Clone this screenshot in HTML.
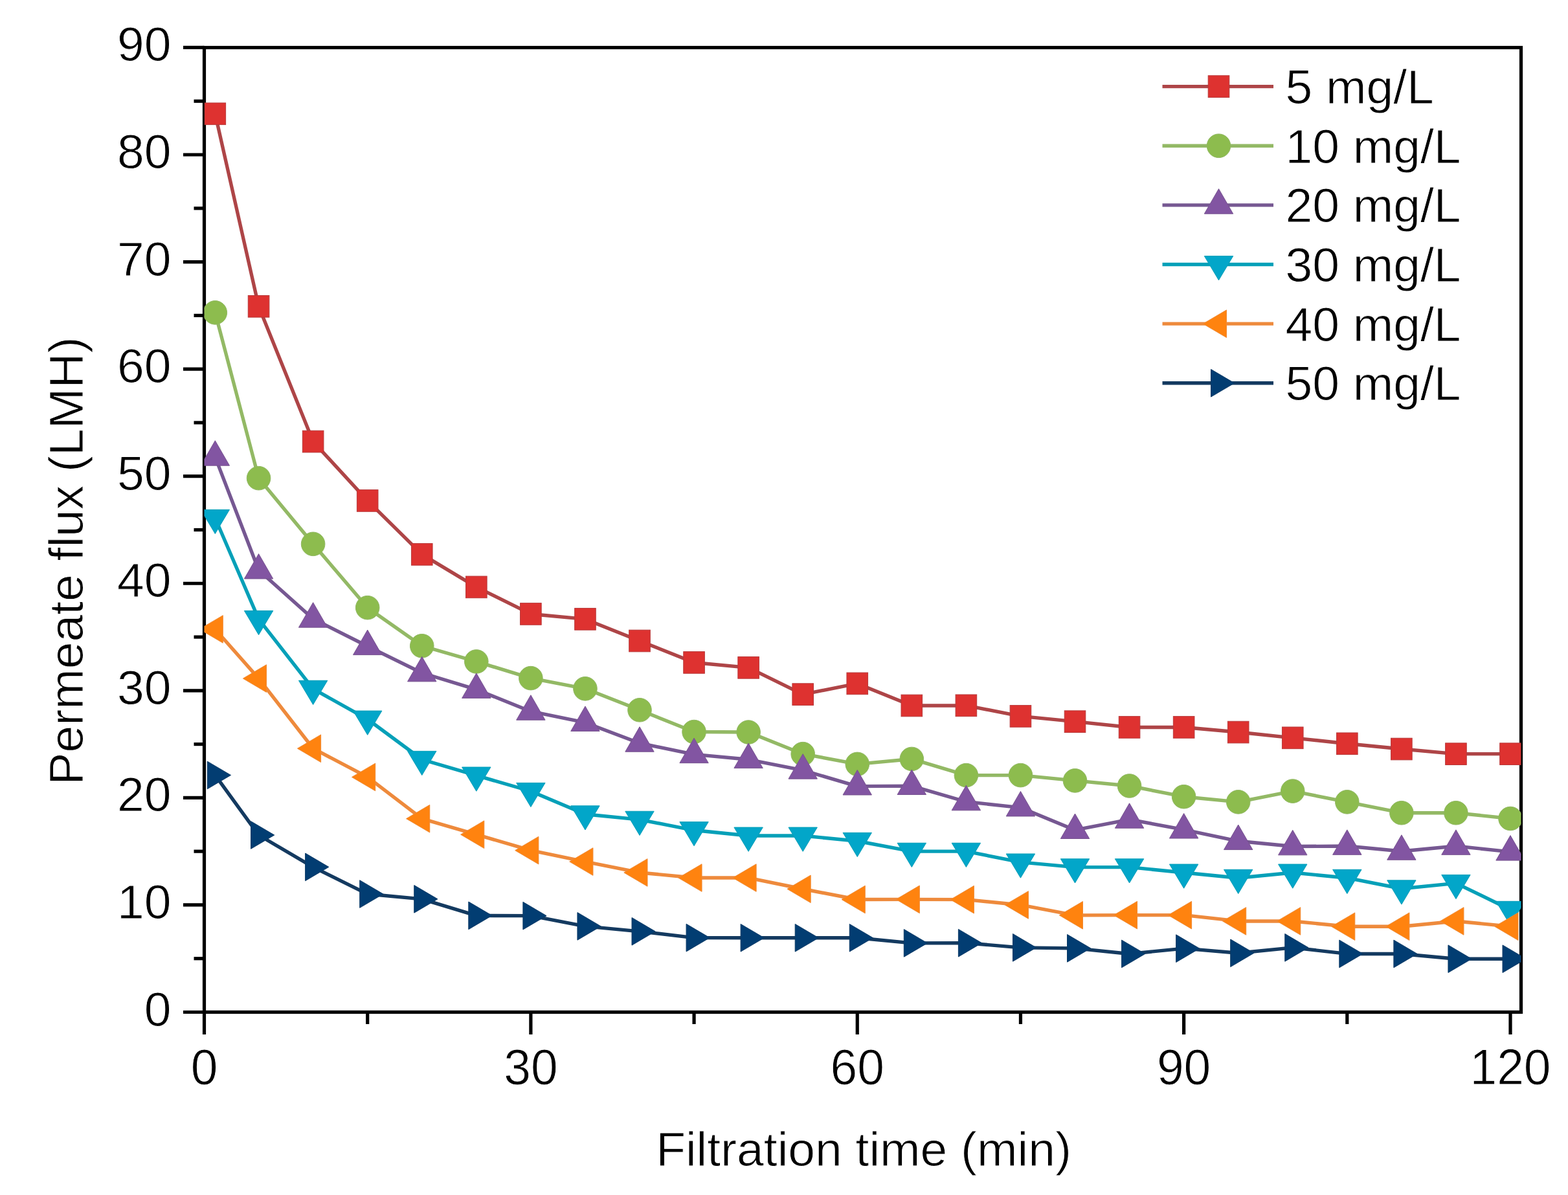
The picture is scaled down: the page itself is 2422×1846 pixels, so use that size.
<!DOCTYPE html>
<html><head><meta charset="utf-8"><title>Permeate flux vs filtration time</title>
<style>
html,body{margin:0;padding:0;background:#fff;overflow:hidden;}
svg{display:block;}
text{font-family:"Liberation Sans",Arial,Helvetica,sans-serif;fill:#000;}
</style></head><body>
<svg width="2422" height="1846" viewBox="0 0 2422 1846">
<rect width="2422" height="1846" fill="#fff"/>
<defs><clipPath id="pc"><rect x="315.5" y="73.5" width="2034" height="1490"/></clipPath></defs>
<g stroke="#000" stroke-width="5.2" stroke-linecap="butt">
<rect x="315.5" y="73.5" width="2034" height="1490" fill="none" stroke="#000" stroke-width="5.2"/>
<line x1="283" y1="1563.5" x2="315.5" y2="1563.5"/>
<line x1="299.5" y1="1480.72" x2="315.5" y2="1480.72"/>
<line x1="283" y1="1397.94" x2="315.5" y2="1397.94"/>
<line x1="299.5" y1="1315.16" x2="315.5" y2="1315.16"/>
<line x1="283" y1="1232.38" x2="315.5" y2="1232.38"/>
<line x1="299.5" y1="1149.6" x2="315.5" y2="1149.6"/>
<line x1="283" y1="1066.82" x2="315.5" y2="1066.82"/>
<line x1="299.5" y1="984.04" x2="315.5" y2="984.04"/>
<line x1="283" y1="901.26" x2="315.5" y2="901.26"/>
<line x1="299.5" y1="818.48" x2="315.5" y2="818.48"/>
<line x1="283" y1="735.7" x2="315.5" y2="735.7"/>
<line x1="299.5" y1="652.92" x2="315.5" y2="652.92"/>
<line x1="283" y1="570.14" x2="315.5" y2="570.14"/>
<line x1="299.5" y1="487.36" x2="315.5" y2="487.36"/>
<line x1="283" y1="404.58" x2="315.5" y2="404.58"/>
<line x1="299.5" y1="321.8" x2="315.5" y2="321.8"/>
<line x1="283" y1="239.02" x2="315.5" y2="239.02"/>
<line x1="299.5" y1="156.24" x2="315.5" y2="156.24"/>
<line x1="283" y1="73.46" x2="315.5" y2="73.46"/>
<line x1="315.5" y1="1563.5" x2="315.5" y2="1598"/>
<line x1="567.69" y1="1563.5" x2="567.69" y2="1582"/>
<line x1="819.88" y1="1563.5" x2="819.88" y2="1598"/>
<line x1="1072.06" y1="1563.5" x2="1072.06" y2="1582"/>
<line x1="1324.25" y1="1563.5" x2="1324.25" y2="1598"/>
<line x1="1576.44" y1="1563.5" x2="1576.44" y2="1582"/>
<line x1="1828.62" y1="1563.5" x2="1828.62" y2="1598"/>
<line x1="2080.81" y1="1563.5" x2="2080.81" y2="1582"/>
<line x1="2333" y1="1563.5" x2="2333" y2="1598"/>
</g>
<g font-size="75" stroke="#fff" stroke-width="0.9">
<text x="264.5" y="1584.5" text-anchor="end">0</text>
<text x="264.5" y="1418.94" text-anchor="end">10</text>
<text x="264.5" y="1253.38" text-anchor="end">20</text>
<text x="264.5" y="1087.82" text-anchor="end">30</text>
<text x="264.5" y="922.26" text-anchor="end">40</text>
<text x="264.5" y="756.7" text-anchor="end">50</text>
<text x="264.5" y="591.14" text-anchor="end">60</text>
<text x="264.5" y="425.58" text-anchor="end">70</text>
<text x="264.5" y="260.02" text-anchor="end">80</text>
<text x="264.5" y="94.46" text-anchor="end">90</text>
<text transform="translate(315.5,1675) scale(1,1.035)" text-anchor="middle">0</text>
<text transform="translate(819.88,1675) scale(1,1.035)" text-anchor="middle">30</text>
<text transform="translate(1324.25,1675) scale(1,1.035)" text-anchor="middle">60</text>
<text transform="translate(1828.62,1675) scale(1,1.035)" text-anchor="middle">90</text>
<text transform="translate(2333,1675) scale(1,1.035)" text-anchor="middle">120</text>
</g>
<text x="1334" y="1801" font-size="75" text-anchor="middle" stroke="#fff" stroke-width="0.9">Filtration time (min)</text>
<text transform="translate(127.5,866.5) rotate(-90)" font-size="75" text-anchor="middle" stroke="#fff" stroke-width="0.9">Permeate flux (LMH)</text>
<g clip-path="url(#pc)">
<polyline points="332.31,175.78 399.56,473.29 483.62,682.06 567.69,773.45 651.75,856.39 735.81,906.89 819.88,948.44 903.94,956.39 988,990 1072.06,1023.44 1156.12,1031.39 1240.19,1072.61 1324.25,1055.89 1408.31,1090 1492.38,1089.83 1576.44,1106.39 1660.5,1114.67 1744.56,1123.44 1828.62,1123.44 1912.69,1131.06 1996.75,1139.83 2080.81,1148.77 2164.88,1157.05 2248.94,1164.67 2333,1164.67" fill="none" stroke="#ae4547" stroke-width="5.4" stroke-linejoin="round"/>
<rect x="316.01" y="158.98" width="32.6" height="33.6" fill="#de3230" stroke="#b8393a" stroke-width="1.0"/>
<rect x="383.26" y="456.49" width="32.6" height="33.6" fill="#de3230" stroke="#b8393a" stroke-width="1.0"/>
<rect x="467.32" y="665.26" width="32.6" height="33.6" fill="#de3230" stroke="#b8393a" stroke-width="1.0"/>
<rect x="551.39" y="756.65" width="32.6" height="33.6" fill="#de3230" stroke="#b8393a" stroke-width="1.0"/>
<rect x="635.45" y="839.59" width="32.6" height="33.6" fill="#de3230" stroke="#b8393a" stroke-width="1.0"/>
<rect x="719.51" y="890.09" width="32.6" height="33.6" fill="#de3230" stroke="#b8393a" stroke-width="1.0"/>
<rect x="803.58" y="931.64" width="32.6" height="33.6" fill="#de3230" stroke="#b8393a" stroke-width="1.0"/>
<rect x="887.64" y="939.59" width="32.6" height="33.6" fill="#de3230" stroke="#b8393a" stroke-width="1.0"/>
<rect x="971.7" y="973.2" width="32.6" height="33.6" fill="#de3230" stroke="#b8393a" stroke-width="1.0"/>
<rect x="1055.76" y="1006.64" width="32.6" height="33.6" fill="#de3230" stroke="#b8393a" stroke-width="1.0"/>
<rect x="1139.83" y="1014.59" width="32.6" height="33.6" fill="#de3230" stroke="#b8393a" stroke-width="1.0"/>
<rect x="1223.89" y="1055.81" width="32.6" height="33.6" fill="#de3230" stroke="#b8393a" stroke-width="1.0"/>
<rect x="1307.95" y="1039.09" width="32.6" height="33.6" fill="#de3230" stroke="#b8393a" stroke-width="1.0"/>
<rect x="1392.01" y="1073.2" width="32.6" height="33.6" fill="#de3230" stroke="#b8393a" stroke-width="1.0"/>
<rect x="1476.08" y="1073.03" width="32.6" height="33.6" fill="#de3230" stroke="#b8393a" stroke-width="1.0"/>
<rect x="1560.14" y="1089.59" width="32.6" height="33.6" fill="#de3230" stroke="#b8393a" stroke-width="1.0"/>
<rect x="1644.2" y="1097.87" width="32.6" height="33.6" fill="#de3230" stroke="#b8393a" stroke-width="1.0"/>
<rect x="1728.26" y="1106.64" width="32.6" height="33.6" fill="#de3230" stroke="#b8393a" stroke-width="1.0"/>
<rect x="1812.33" y="1106.64" width="32.6" height="33.6" fill="#de3230" stroke="#b8393a" stroke-width="1.0"/>
<rect x="1896.39" y="1114.26" width="32.6" height="33.6" fill="#de3230" stroke="#b8393a" stroke-width="1.0"/>
<rect x="1980.45" y="1123.03" width="32.6" height="33.6" fill="#de3230" stroke="#b8393a" stroke-width="1.0"/>
<rect x="2064.51" y="1131.97" width="32.6" height="33.6" fill="#de3230" stroke="#b8393a" stroke-width="1.0"/>
<rect x="2148.57" y="1140.25" width="32.6" height="33.6" fill="#de3230" stroke="#b8393a" stroke-width="1.0"/>
<rect x="2232.64" y="1147.87" width="32.6" height="33.6" fill="#de3230" stroke="#b8393a" stroke-width="1.0"/>
<rect x="2316.7" y="1147.87" width="32.6" height="33.6" fill="#de3230" stroke="#b8393a" stroke-width="1.0"/>
<polyline points="332.31,482.89 399.56,738.68 483.62,840.33 567.69,938.68 651.75,997.78 735.81,1021.95 819.88,1047.62 903.94,1063.84 988,1096.79 1072.06,1130.56 1156.12,1131.06 1240.19,1164.67 1324.25,1180.39 1408.31,1172.45 1492.38,1197.61 1576.44,1197.61 1660.5,1205.89 1744.56,1214 1828.62,1230.72 1912.69,1238.84 1996.75,1222.12 2080.81,1238.84 2164.88,1255.72 2248.94,1255.72 2333,1264.5" fill="none" stroke="#93b965" stroke-width="5.4" stroke-linejoin="round"/>
<circle cx="332.31" cy="482.89" r="18.3" fill="#8dbc4e" stroke="#90b862" stroke-width="1.0"/>
<circle cx="399.56" cy="738.68" r="18.3" fill="#8dbc4e" stroke="#90b862" stroke-width="1.0"/>
<circle cx="483.62" cy="840.33" r="18.3" fill="#8dbc4e" stroke="#90b862" stroke-width="1.0"/>
<circle cx="567.69" cy="938.68" r="18.3" fill="#8dbc4e" stroke="#90b862" stroke-width="1.0"/>
<circle cx="651.75" cy="997.78" r="18.3" fill="#8dbc4e" stroke="#90b862" stroke-width="1.0"/>
<circle cx="735.81" cy="1021.95" r="18.3" fill="#8dbc4e" stroke="#90b862" stroke-width="1.0"/>
<circle cx="819.88" cy="1047.62" r="18.3" fill="#8dbc4e" stroke="#90b862" stroke-width="1.0"/>
<circle cx="903.94" cy="1063.84" r="18.3" fill="#8dbc4e" stroke="#90b862" stroke-width="1.0"/>
<circle cx="988" cy="1096.79" r="18.3" fill="#8dbc4e" stroke="#90b862" stroke-width="1.0"/>
<circle cx="1072.06" cy="1130.56" r="18.3" fill="#8dbc4e" stroke="#90b862" stroke-width="1.0"/>
<circle cx="1156.12" cy="1131.06" r="18.3" fill="#8dbc4e" stroke="#90b862" stroke-width="1.0"/>
<circle cx="1240.19" cy="1164.67" r="18.3" fill="#8dbc4e" stroke="#90b862" stroke-width="1.0"/>
<circle cx="1324.25" cy="1180.39" r="18.3" fill="#8dbc4e" stroke="#90b862" stroke-width="1.0"/>
<circle cx="1408.31" cy="1172.45" r="18.3" fill="#8dbc4e" stroke="#90b862" stroke-width="1.0"/>
<circle cx="1492.38" cy="1197.61" r="18.3" fill="#8dbc4e" stroke="#90b862" stroke-width="1.0"/>
<circle cx="1576.44" cy="1197.61" r="18.3" fill="#8dbc4e" stroke="#90b862" stroke-width="1.0"/>
<circle cx="1660.5" cy="1205.89" r="18.3" fill="#8dbc4e" stroke="#90b862" stroke-width="1.0"/>
<circle cx="1744.56" cy="1214" r="18.3" fill="#8dbc4e" stroke="#90b862" stroke-width="1.0"/>
<circle cx="1828.62" cy="1230.72" r="18.3" fill="#8dbc4e" stroke="#90b862" stroke-width="1.0"/>
<circle cx="1912.69" cy="1238.84" r="18.3" fill="#8dbc4e" stroke="#90b862" stroke-width="1.0"/>
<circle cx="1996.75" cy="1222.12" r="18.3" fill="#8dbc4e" stroke="#90b862" stroke-width="1.0"/>
<circle cx="2080.81" cy="1238.84" r="18.3" fill="#8dbc4e" stroke="#90b862" stroke-width="1.0"/>
<circle cx="2164.88" cy="1255.72" r="18.3" fill="#8dbc4e" stroke="#90b862" stroke-width="1.0"/>
<circle cx="2248.94" cy="1255.72" r="18.3" fill="#8dbc4e" stroke="#90b862" stroke-width="1.0"/>
<circle cx="2333" cy="1264.5" r="18.3" fill="#8dbc4e" stroke="#90b862" stroke-width="1.0"/>
<polyline points="332.31,705.9 399.56,880.73 483.62,955.89 567.69,998.28 651.75,1039.5 735.81,1065.16 819.88,1098.94 903.94,1116.16 988,1147.94 1072.06,1165.33 1156.12,1173.28 1240.19,1189.83 1324.25,1214.67 1408.31,1214.17 1492.38,1238.51 1576.44,1247.61 1660.5,1282.21 1744.56,1265.99 1828.62,1281.72 1912.69,1299.27 1996.75,1307.54 2080.81,1307.05 2164.88,1314.99 2248.94,1307.05 2333,1315.82" fill="none" stroke="#765892" stroke-width="5.4" stroke-linejoin="round"/>
<polygon points="332.31,680.7 310.11,719.2 354.51,719.2" fill="#8255a2" stroke="#77538f" stroke-width="1.0"/>
<polygon points="399.56,855.53 377.36,894.03 421.76,894.03" fill="#8255a2" stroke="#77538f" stroke-width="1.0"/>
<polygon points="483.62,930.69 461.43,969.19 505.82,969.19" fill="#8255a2" stroke="#77538f" stroke-width="1.0"/>
<polygon points="567.69,973.08 545.49,1011.58 589.89,1011.58" fill="#8255a2" stroke="#77538f" stroke-width="1.0"/>
<polygon points="651.75,1014.3 629.55,1052.8 673.95,1052.8" fill="#8255a2" stroke="#77538f" stroke-width="1.0"/>
<polygon points="735.81,1039.96 713.61,1078.46 758.01,1078.46" fill="#8255a2" stroke="#77538f" stroke-width="1.0"/>
<polygon points="819.88,1073.74 797.67,1112.24 842.08,1112.24" fill="#8255a2" stroke="#77538f" stroke-width="1.0"/>
<polygon points="903.94,1090.96 881.74,1129.46 926.14,1129.46" fill="#8255a2" stroke="#77538f" stroke-width="1.0"/>
<polygon points="988,1122.74 965.8,1161.24 1010.2,1161.24" fill="#8255a2" stroke="#77538f" stroke-width="1.0"/>
<polygon points="1072.06,1140.13 1049.86,1178.63 1094.26,1178.63" fill="#8255a2" stroke="#77538f" stroke-width="1.0"/>
<polygon points="1156.12,1148.08 1133.92,1186.58 1178.33,1186.58" fill="#8255a2" stroke="#77538f" stroke-width="1.0"/>
<polygon points="1240.19,1164.63 1217.99,1203.13 1262.39,1203.13" fill="#8255a2" stroke="#77538f" stroke-width="1.0"/>
<polygon points="1324.25,1189.47 1302.05,1227.97 1346.45,1227.97" fill="#8255a2" stroke="#77538f" stroke-width="1.0"/>
<polygon points="1408.31,1188.97 1386.11,1227.47 1430.51,1227.47" fill="#8255a2" stroke="#77538f" stroke-width="1.0"/>
<polygon points="1492.38,1213.31 1470.17,1251.81 1514.58,1251.81" fill="#8255a2" stroke="#77538f" stroke-width="1.0"/>
<polygon points="1576.44,1222.41 1554.24,1260.91 1598.64,1260.91" fill="#8255a2" stroke="#77538f" stroke-width="1.0"/>
<polygon points="1660.5,1257.01 1638.3,1295.51 1682.7,1295.51" fill="#8255a2" stroke="#77538f" stroke-width="1.0"/>
<polygon points="1744.56,1240.79 1722.36,1279.29 1766.76,1279.29" fill="#8255a2" stroke="#77538f" stroke-width="1.0"/>
<polygon points="1828.62,1256.52 1806.42,1295.02 1850.83,1295.02" fill="#8255a2" stroke="#77538f" stroke-width="1.0"/>
<polygon points="1912.69,1274.07 1890.49,1312.57 1934.89,1312.57" fill="#8255a2" stroke="#77538f" stroke-width="1.0"/>
<polygon points="1996.75,1282.34 1974.55,1320.84 2018.95,1320.84" fill="#8255a2" stroke="#77538f" stroke-width="1.0"/>
<polygon points="2080.81,1281.85 2058.61,1320.35 2103.01,1320.35" fill="#8255a2" stroke="#77538f" stroke-width="1.0"/>
<polygon points="2164.88,1289.79 2142.68,1328.29 2187.07,1328.29" fill="#8255a2" stroke="#77538f" stroke-width="1.0"/>
<polygon points="2248.94,1281.85 2226.74,1320.35 2271.14,1320.35" fill="#8255a2" stroke="#77538f" stroke-width="1.0"/>
<polygon points="2333,1290.62 2310.8,1329.12 2355.2,1329.12" fill="#8255a2" stroke="#77538f" stroke-width="1.0"/>
<polyline points="332.31,800.27 399.56,956.39 483.62,1064.17 567.69,1111.02 651.75,1173.28 735.81,1197.94 819.88,1222.28 903.94,1257.71 988,1266.15 1072.06,1282.54 1156.12,1290.99 1240.19,1290.99 1324.25,1299.27 1408.31,1315.16 1492.38,1315.16 1576.44,1331.88 1660.5,1339.66 1744.56,1339.66 1828.62,1347.94 1912.69,1356.22 1996.75,1347.94 2080.81,1356.22 2164.88,1372.77 2248.94,1364.33 2333,1405.22" fill="none" stroke="#06a0b8" stroke-width="5.4" stroke-linejoin="round"/>
<polygon points="332.31,824.57 310.11,787.37 354.51,787.37" fill="#02a6c9" stroke="#069fb8" stroke-width="1.0"/>
<polygon points="399.56,980.69 377.36,943.49 421.76,943.49" fill="#02a6c9" stroke="#069fb8" stroke-width="1.0"/>
<polygon points="483.62,1088.47 461.43,1051.27 505.82,1051.27" fill="#02a6c9" stroke="#069fb8" stroke-width="1.0"/>
<polygon points="567.69,1135.32 545.49,1098.12 589.89,1098.12" fill="#02a6c9" stroke="#069fb8" stroke-width="1.0"/>
<polygon points="651.75,1197.58 629.55,1160.38 673.95,1160.38" fill="#02a6c9" stroke="#069fb8" stroke-width="1.0"/>
<polygon points="735.81,1222.24 713.61,1185.04 758.01,1185.04" fill="#02a6c9" stroke="#069fb8" stroke-width="1.0"/>
<polygon points="819.88,1246.58 797.67,1209.38 842.08,1209.38" fill="#02a6c9" stroke="#069fb8" stroke-width="1.0"/>
<polygon points="903.94,1282.01 881.74,1244.81 926.14,1244.81" fill="#02a6c9" stroke="#069fb8" stroke-width="1.0"/>
<polygon points="988,1290.45 965.8,1253.25 1010.2,1253.25" fill="#02a6c9" stroke="#069fb8" stroke-width="1.0"/>
<polygon points="1072.06,1306.84 1049.86,1269.64 1094.26,1269.64" fill="#02a6c9" stroke="#069fb8" stroke-width="1.0"/>
<polygon points="1156.12,1315.29 1133.92,1278.09 1178.33,1278.09" fill="#02a6c9" stroke="#069fb8" stroke-width="1.0"/>
<polygon points="1240.19,1315.29 1217.99,1278.09 1262.39,1278.09" fill="#02a6c9" stroke="#069fb8" stroke-width="1.0"/>
<polygon points="1324.25,1323.57 1302.05,1286.37 1346.45,1286.37" fill="#02a6c9" stroke="#069fb8" stroke-width="1.0"/>
<polygon points="1408.31,1339.46 1386.11,1302.26 1430.51,1302.26" fill="#02a6c9" stroke="#069fb8" stroke-width="1.0"/>
<polygon points="1492.38,1339.46 1470.17,1302.26 1514.58,1302.26" fill="#02a6c9" stroke="#069fb8" stroke-width="1.0"/>
<polygon points="1576.44,1356.18 1554.24,1318.98 1598.64,1318.98" fill="#02a6c9" stroke="#069fb8" stroke-width="1.0"/>
<polygon points="1660.5,1363.96 1638.3,1326.76 1682.7,1326.76" fill="#02a6c9" stroke="#069fb8" stroke-width="1.0"/>
<polygon points="1744.56,1363.96 1722.36,1326.76 1766.76,1326.76" fill="#02a6c9" stroke="#069fb8" stroke-width="1.0"/>
<polygon points="1828.62,1372.24 1806.42,1335.04 1850.83,1335.04" fill="#02a6c9" stroke="#069fb8" stroke-width="1.0"/>
<polygon points="1912.69,1380.52 1890.49,1343.32 1934.89,1343.32" fill="#02a6c9" stroke="#069fb8" stroke-width="1.0"/>
<polygon points="1996.75,1372.24 1974.55,1335.04 2018.95,1335.04" fill="#02a6c9" stroke="#069fb8" stroke-width="1.0"/>
<polygon points="2080.81,1380.52 2058.61,1343.32 2103.01,1343.32" fill="#02a6c9" stroke="#069fb8" stroke-width="1.0"/>
<polygon points="2164.88,1397.07 2142.68,1359.87 2187.07,1359.87" fill="#02a6c9" stroke="#069fb8" stroke-width="1.0"/>
<polygon points="2248.94,1388.63 2226.74,1351.43 2271.14,1351.43" fill="#02a6c9" stroke="#069fb8" stroke-width="1.0"/>
<polygon points="2333,1429.52 2310.8,1392.32 2355.2,1392.32" fill="#02a6c9" stroke="#069fb8" stroke-width="1.0"/>
<polyline points="332.31,971.95 399.56,1048.11 483.62,1156.22 567.69,1200.43 651.75,1264.66 735.81,1289.17 819.88,1313.67 903.94,1331.05 988,1347.94 1072.06,1356.05 1156.12,1356.05 1240.19,1373.27 1324.25,1389.5 1408.31,1389.33 1492.38,1389.66 1576.44,1397.94 1660.5,1413.83 1744.56,1413.67 1828.62,1413.67 1912.69,1422.94 1996.75,1422.94 2080.81,1431.22 2164.88,1431.22 2248.94,1422.94 2333,1431.22" fill="none" stroke="#ee8a3c" stroke-width="5.4" stroke-linejoin="round"/>
<polygon points="308.11,971.95 344.31,950.65 344.31,993.25" fill="#ff830f" stroke="#f08a34" stroke-width="1.0"/>
<polygon points="375.36,1048.11 411.56,1026.81 411.56,1069.41" fill="#ff830f" stroke="#f08a34" stroke-width="1.0"/>
<polygon points="459.43,1156.22 495.62,1134.92 495.62,1177.52" fill="#ff830f" stroke="#f08a34" stroke-width="1.0"/>
<polygon points="543.49,1200.43 579.69,1179.13 579.69,1221.73" fill="#ff830f" stroke="#f08a34" stroke-width="1.0"/>
<polygon points="627.55,1264.66 663.75,1243.36 663.75,1285.96" fill="#ff830f" stroke="#f08a34" stroke-width="1.0"/>
<polygon points="711.61,1289.17 747.81,1267.87 747.81,1310.47" fill="#ff830f" stroke="#f08a34" stroke-width="1.0"/>
<polygon points="795.67,1313.67 831.88,1292.37 831.88,1334.97" fill="#ff830f" stroke="#f08a34" stroke-width="1.0"/>
<polygon points="879.74,1331.05 915.94,1309.75 915.94,1352.35" fill="#ff830f" stroke="#f08a34" stroke-width="1.0"/>
<polygon points="963.8,1347.94 1000,1326.64 1000,1369.24" fill="#ff830f" stroke="#f08a34" stroke-width="1.0"/>
<polygon points="1047.86,1356.05 1084.06,1334.75 1084.06,1377.35" fill="#ff830f" stroke="#f08a34" stroke-width="1.0"/>
<polygon points="1131.92,1356.05 1168.12,1334.75 1168.12,1377.35" fill="#ff830f" stroke="#f08a34" stroke-width="1.0"/>
<polygon points="1215.99,1373.27 1252.19,1351.97 1252.19,1394.57" fill="#ff830f" stroke="#f08a34" stroke-width="1.0"/>
<polygon points="1300.05,1389.5 1336.25,1368.2 1336.25,1410.8" fill="#ff830f" stroke="#f08a34" stroke-width="1.0"/>
<polygon points="1384.11,1389.33 1420.31,1368.03 1420.31,1410.63" fill="#ff830f" stroke="#f08a34" stroke-width="1.0"/>
<polygon points="1468.17,1389.66 1504.38,1368.36 1504.38,1410.96" fill="#ff830f" stroke="#f08a34" stroke-width="1.0"/>
<polygon points="1552.24,1397.94 1588.44,1376.64 1588.44,1419.24" fill="#ff830f" stroke="#f08a34" stroke-width="1.0"/>
<polygon points="1636.3,1413.83 1672.5,1392.53 1672.5,1435.13" fill="#ff830f" stroke="#f08a34" stroke-width="1.0"/>
<polygon points="1720.36,1413.67 1756.56,1392.37 1756.56,1434.97" fill="#ff830f" stroke="#f08a34" stroke-width="1.0"/>
<polygon points="1804.42,1413.67 1840.62,1392.37 1840.62,1434.97" fill="#ff830f" stroke="#f08a34" stroke-width="1.0"/>
<polygon points="1888.49,1422.94 1924.69,1401.64 1924.69,1444.24" fill="#ff830f" stroke="#f08a34" stroke-width="1.0"/>
<polygon points="1972.55,1422.94 2008.75,1401.64 2008.75,1444.24" fill="#ff830f" stroke="#f08a34" stroke-width="1.0"/>
<polygon points="2056.61,1431.22 2092.81,1409.92 2092.81,1452.52" fill="#ff830f" stroke="#f08a34" stroke-width="1.0"/>
<polygon points="2140.68,1431.22 2176.88,1409.92 2176.88,1452.52" fill="#ff830f" stroke="#f08a34" stroke-width="1.0"/>
<polygon points="2224.74,1422.94 2260.94,1401.64 2260.94,1444.24" fill="#ff830f" stroke="#f08a34" stroke-width="1.0"/>
<polygon points="2308.8,1431.22 2345,1409.92 2345,1452.52" fill="#ff830f" stroke="#f08a34" stroke-width="1.0"/>
<polyline points="332.31,1197.45 399.56,1289.99 483.62,1339.33 567.69,1381.05 651.75,1388.83 735.81,1414.33 819.88,1414.66 903.94,1430.89 988,1438.83 1072.06,1448.6 1156.12,1448.77 1240.19,1448.77 1324.25,1448.77 1408.31,1456.88 1492.38,1456.71 1576.44,1463.83 1660.5,1464.83 1744.56,1473.44 1828.62,1465.16 1912.69,1472.28 1996.75,1463.83 2080.81,1473.44 2164.88,1473.44 2248.94,1481.22 2333,1481.22" fill="none" stroke="#143a60" stroke-width="5.4" stroke-linejoin="round"/>
<polygon points="356.51,1197.45 320.31,1176.15 320.31,1218.75" fill="#023d72" stroke="#0a3a66" stroke-width="1.0"/>
<polygon points="423.76,1289.99 387.56,1268.69 387.56,1311.29" fill="#023d72" stroke="#0a3a66" stroke-width="1.0"/>
<polygon points="507.82,1339.33 471.62,1318.03 471.62,1360.63" fill="#023d72" stroke="#0a3a66" stroke-width="1.0"/>
<polygon points="591.89,1381.05 555.69,1359.75 555.69,1402.35" fill="#023d72" stroke="#0a3a66" stroke-width="1.0"/>
<polygon points="675.95,1388.83 639.75,1367.53 639.75,1410.13" fill="#023d72" stroke="#0a3a66" stroke-width="1.0"/>
<polygon points="760.01,1414.33 723.81,1393.03 723.81,1435.63" fill="#023d72" stroke="#0a3a66" stroke-width="1.0"/>
<polygon points="844.08,1414.66 807.88,1393.36 807.88,1435.96" fill="#023d72" stroke="#0a3a66" stroke-width="1.0"/>
<polygon points="928.14,1430.89 891.94,1409.59 891.94,1452.19" fill="#023d72" stroke="#0a3a66" stroke-width="1.0"/>
<polygon points="1012.2,1438.83 976,1417.53 976,1460.13" fill="#023d72" stroke="#0a3a66" stroke-width="1.0"/>
<polygon points="1096.26,1448.6 1060.06,1427.3 1060.06,1469.9" fill="#023d72" stroke="#0a3a66" stroke-width="1.0"/>
<polygon points="1180.33,1448.77 1144.12,1427.47 1144.12,1470.07" fill="#023d72" stroke="#0a3a66" stroke-width="1.0"/>
<polygon points="1264.39,1448.77 1228.19,1427.47 1228.19,1470.07" fill="#023d72" stroke="#0a3a66" stroke-width="1.0"/>
<polygon points="1348.45,1448.77 1312.25,1427.47 1312.25,1470.07" fill="#023d72" stroke="#0a3a66" stroke-width="1.0"/>
<polygon points="1432.51,1456.88 1396.31,1435.58 1396.31,1478.18" fill="#023d72" stroke="#0a3a66" stroke-width="1.0"/>
<polygon points="1516.58,1456.71 1480.38,1435.41 1480.38,1478.01" fill="#023d72" stroke="#0a3a66" stroke-width="1.0"/>
<polygon points="1600.64,1463.83 1564.44,1442.53 1564.44,1485.13" fill="#023d72" stroke="#0a3a66" stroke-width="1.0"/>
<polygon points="1684.7,1464.83 1648.5,1443.53 1648.5,1486.13" fill="#023d72" stroke="#0a3a66" stroke-width="1.0"/>
<polygon points="1768.76,1473.44 1732.56,1452.14 1732.56,1494.74" fill="#023d72" stroke="#0a3a66" stroke-width="1.0"/>
<polygon points="1852.83,1465.16 1816.62,1443.86 1816.62,1486.46" fill="#023d72" stroke="#0a3a66" stroke-width="1.0"/>
<polygon points="1936.89,1472.28 1900.69,1450.98 1900.69,1493.58" fill="#023d72" stroke="#0a3a66" stroke-width="1.0"/>
<polygon points="2020.95,1463.83 1984.75,1442.53 1984.75,1485.13" fill="#023d72" stroke="#0a3a66" stroke-width="1.0"/>
<polygon points="2105.01,1473.44 2068.81,1452.14 2068.81,1494.74" fill="#023d72" stroke="#0a3a66" stroke-width="1.0"/>
<polygon points="2189.07,1473.44 2152.88,1452.14 2152.88,1494.74" fill="#023d72" stroke="#0a3a66" stroke-width="1.0"/>
<polygon points="2273.14,1481.22 2236.94,1459.92 2236.94,1502.52" fill="#023d72" stroke="#0a3a66" stroke-width="1.0"/>
<polygon points="2357.2,1481.22 2321,1459.92 2321,1502.52" fill="#023d72" stroke="#0a3a66" stroke-width="1.0"/>
</g>
<line x1="1795.5" y1="133.6" x2="1967" y2="133.6" stroke="#ae4547" stroke-width="5.4"/>
<rect x="1866.2" y="116.8" width="32.6" height="33.6" fill="#de3230" stroke="#b8393a" stroke-width="1.0"/>
<text x="1985.5" y="160.1" font-size="75" stroke="#fff" stroke-width="0.9">5 mg/L</text>
<line x1="1795.5" y1="225.24" x2="1967" y2="225.24" stroke="#93b965" stroke-width="5.4"/>
<circle cx="1882.5" cy="225.24" r="18.3" fill="#8dbc4e" stroke="#90b862" stroke-width="1.0"/>
<text x="1985.5" y="251.74" font-size="75" stroke="#fff" stroke-width="0.9">10 mg/L</text>
<line x1="1795.5" y1="316.88" x2="1967" y2="316.88" stroke="#765892" stroke-width="5.4"/>
<polygon points="1882.5,291.68 1860.3,330.18 1904.7,330.18" fill="#8255a2" stroke="#77538f" stroke-width="1.0"/>
<text x="1985.5" y="343.38" font-size="75" stroke="#fff" stroke-width="0.9">20 mg/L</text>
<line x1="1795.5" y1="408.52" x2="1967" y2="408.52" stroke="#06a0b8" stroke-width="5.4"/>
<polygon points="1882.5,432.82 1860.3,395.62 1904.7,395.62" fill="#02a6c9" stroke="#069fb8" stroke-width="1.0"/>
<text x="1985.5" y="435.02" font-size="75" stroke="#fff" stroke-width="0.9">30 mg/L</text>
<line x1="1795.5" y1="500.16" x2="1967" y2="500.16" stroke="#ee8a3c" stroke-width="5.4"/>
<polygon points="1858.3,500.16 1894.5,478.86 1894.5,521.46" fill="#ff830f" stroke="#f08a34" stroke-width="1.0"/>
<text x="1985.5" y="526.66" font-size="75" stroke="#fff" stroke-width="0.9">40 mg/L</text>
<line x1="1795.5" y1="591.8" x2="1967" y2="591.8" stroke="#143a60" stroke-width="5.4"/>
<polygon points="1906.7,591.8 1870.5,570.5 1870.5,613.1" fill="#023d72" stroke="#0a3a66" stroke-width="1.0"/>
<text x="1985.5" y="618.3" font-size="75" stroke="#fff" stroke-width="0.9">50 mg/L</text>
</svg>
</body></html>
